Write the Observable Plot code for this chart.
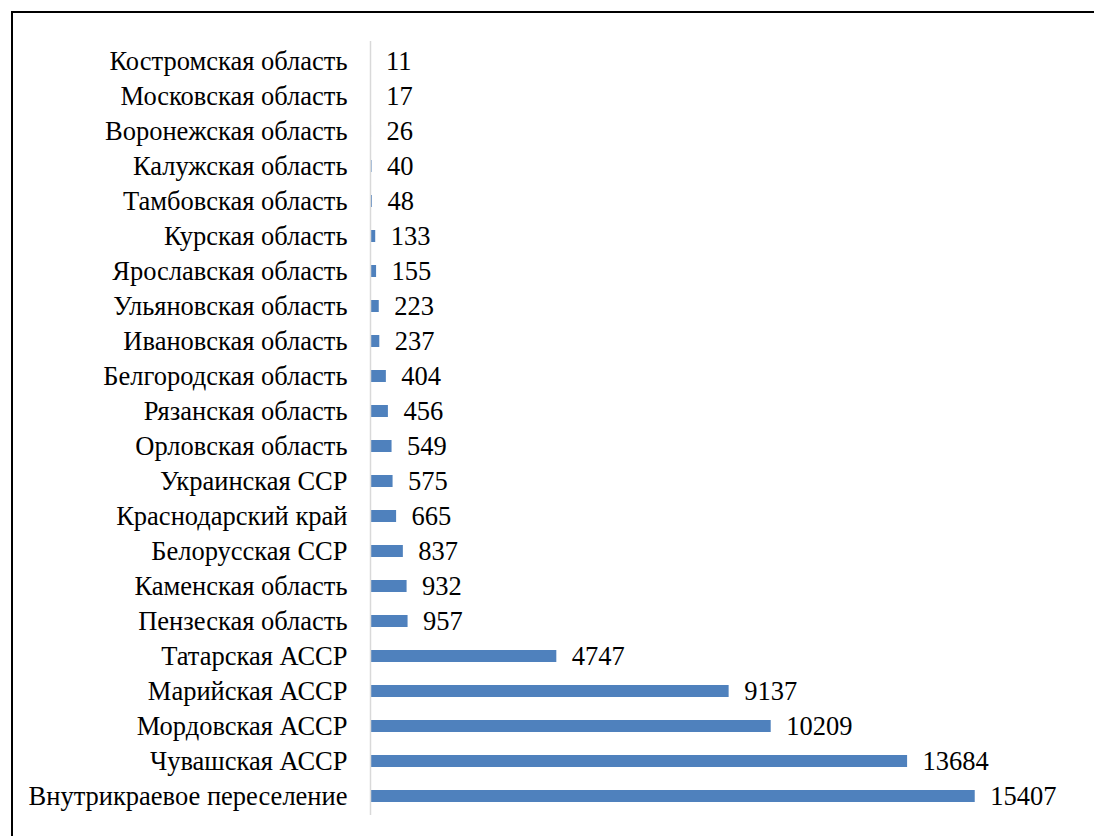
<!DOCTYPE html>
<html>
<head>
<meta charset="utf-8">
<script src="https://cdn.jsdelivr.net/npm/d3@7"></script>
<script src="https://cdn.jsdelivr.net/npm/@observablehq/plot@0.6"></script>
<style>
  html, body { margin: 0; padding: 0; background: #fff; overflow: hidden; }
  #wrap { position: relative; width: 1094px; height: 836px; }
  #frame { position: absolute; left: 11px; top: 11px; width: 1200px; height: 1000px;
           border-left: 2px solid #000; border-top: 2px solid #000; box-sizing: border-box; pointer-events: none; }
  #chart { position: absolute; left: 0; top: 0; }
  #chart svg text { font-family: "Liberation Serif", "Times New Roman", serif; }
</style>
</head>
<body>
<div id="wrap">
  <div id="chart"></div>
  <div id="frame"></div>
</div>
<script>
const regions = [
  "Костромская область",
  "Московская область",
  "Воронежская область",
  "Калужская область",
  "Тамбовская область",
  "Курская область",
  "Ярославская область",
  "Ульяновская область",
  "Ивановская область",
  "Белгородская область",
  "Рязанская область",
  "Орловская область",
  "Украинская ССР",
  "Краснодарский край",
  "Белорусская ССР",
  "Каменская область",
  "Пензеская область",
  "Татарская АССР",
  "Марийская АССР",
  "Мордовская АССР",
  "Чувашская АССР",
  "Внутрикраевое переселение"
];
const values = [11, 17, 26, 40, 48, 133, 155, 223, 237, 404, 456, 549, 575, 665, 837, 932, 957, 4747, 9137, 10209, 13684, 15407];
</script>
<script>
const data = regions.map((r, i) => ({region: r, value: values[i]}));
const font = "Liberation Serif, Times New Roman, serif";
const chart = Plot.plot({
  width: 1094,
  height: 836,
  marginLeft: 370,
  marginRight: 96,
  marginTop: 41,
  marginBottom: 21,
  style: {fontFamily: font, fontSize: "26.5px", color: "#000", background: "transparent"},
  x: {domain: [0, 16000], axis: null},
  y: {domain: regions, paddingInner: 0.658, paddingOuter: 0.339, axis: null},
  marks: [
    Plot.barX(data, {x: "value", y: "region", fill: "#4f81bd"}),
    Plot.ruleX([0], {stroke: "#d9d9d9", strokeWidth: 1.5}),
    Plot.axisY({tickSize: 0, tickPadding: 23, fontSize: 26.5, fill: "#000", label: null}),
    Plot.text(data, {x: "value", y: "region", text: d => String(d.value), dx: 15, textAnchor: "start", fontSize: 26.5, fill: "#000"})
  ]
});
document.getElementById("chart").appendChild(chart);
</script>
</body>
</html>
